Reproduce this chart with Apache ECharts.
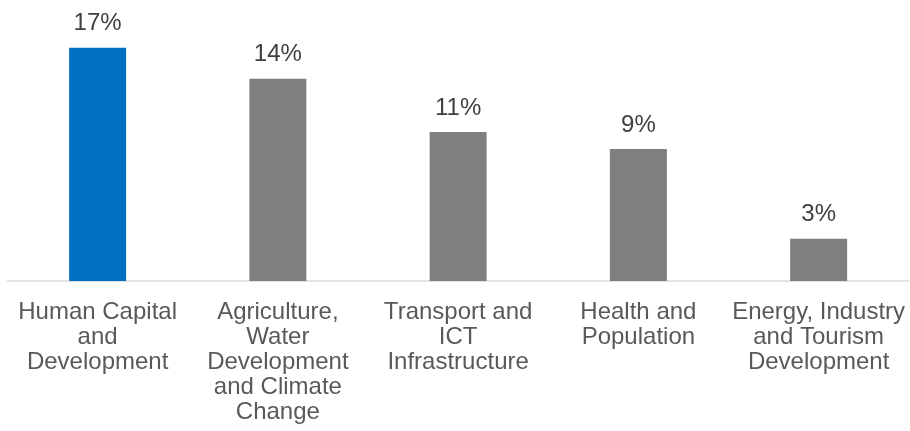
<!DOCTYPE html>
<html>
<head>
<meta charset="utf-8">
<title>Share by sector</title>
<script src="https://cdn.jsdelivr.net/npm/echarts@6/dist/echarts.min.js"></script>
<style>
  html, body { margin: 0; padding: 0; background: #ffffff; }
  #chart { width: 910px; height: 431px; }
</style>
</head>
<body>
<div id="chart"></div>
<script>
// Sectors (line breaks as printed under each bar)
const sectors = [
  'Human Capital\nand\nDevelopment',
  'Agriculture,\nWater\nDevelopment\nand Climate\nChange',
  'Transport and\nICT\nInfrastructure',
  'Health and\nPopulation',
  'Energy, Industry\nand Tourism\nDevelopment'
];

// Share of total, in percent
const shares = [16.6, 14.4, 10.6, 9.4, 3.0];

// Index of the highlighted sector
const highlightIndex = 0;

const HIGHLIGHT = '#0070C0';
const NEUTRAL = '#7F7F7F';
const FONT = '"Liberation Sans", Arial, sans-serif';

const chart = echarts.init(document.getElementById('chart'), null, { renderer: 'canvas' });

chart.setOption({
  animation: false,
  backgroundColor: '#ffffff',
  grid: { left: 7.5, right: 1.25, top: 0, bottom: 150, containLabel: false },
  xAxis: {
    type: 'category',
    data: sectors,
    axisTick: { show: false },
    axisLine: { show: true, lineStyle: { color: '#D9D9D9', width: 1.5 } },
    axisLabel: {
      interval: 0,
      margin: 19,
      color: '#595959',
      fontFamily: FONT,
      fontSize: 24,
      lineHeight: 25,
      align: 'center'
    }
  },
  yAxis: {
    type: 'value',
    min: 0,
    max: 20,
    show: false,
    splitLine: { show: false }
  },
  series: [{
    type: 'bar',
    barWidth: 57,
    data: shares.map((v, i) => ({
      value: v,
      itemStyle: { color: i === highlightIndex ? HIGHLIGHT : NEUTRAL }
    })),
    label: {
      show: true,
      position: 'top',
      distance: 12,
      color: '#404040',
      fontFamily: FONT,
      fontSize: 24,
      formatter: p => Math.round(p.value) + '%'
    }
  }]
});
</script>
</body>
</html>
